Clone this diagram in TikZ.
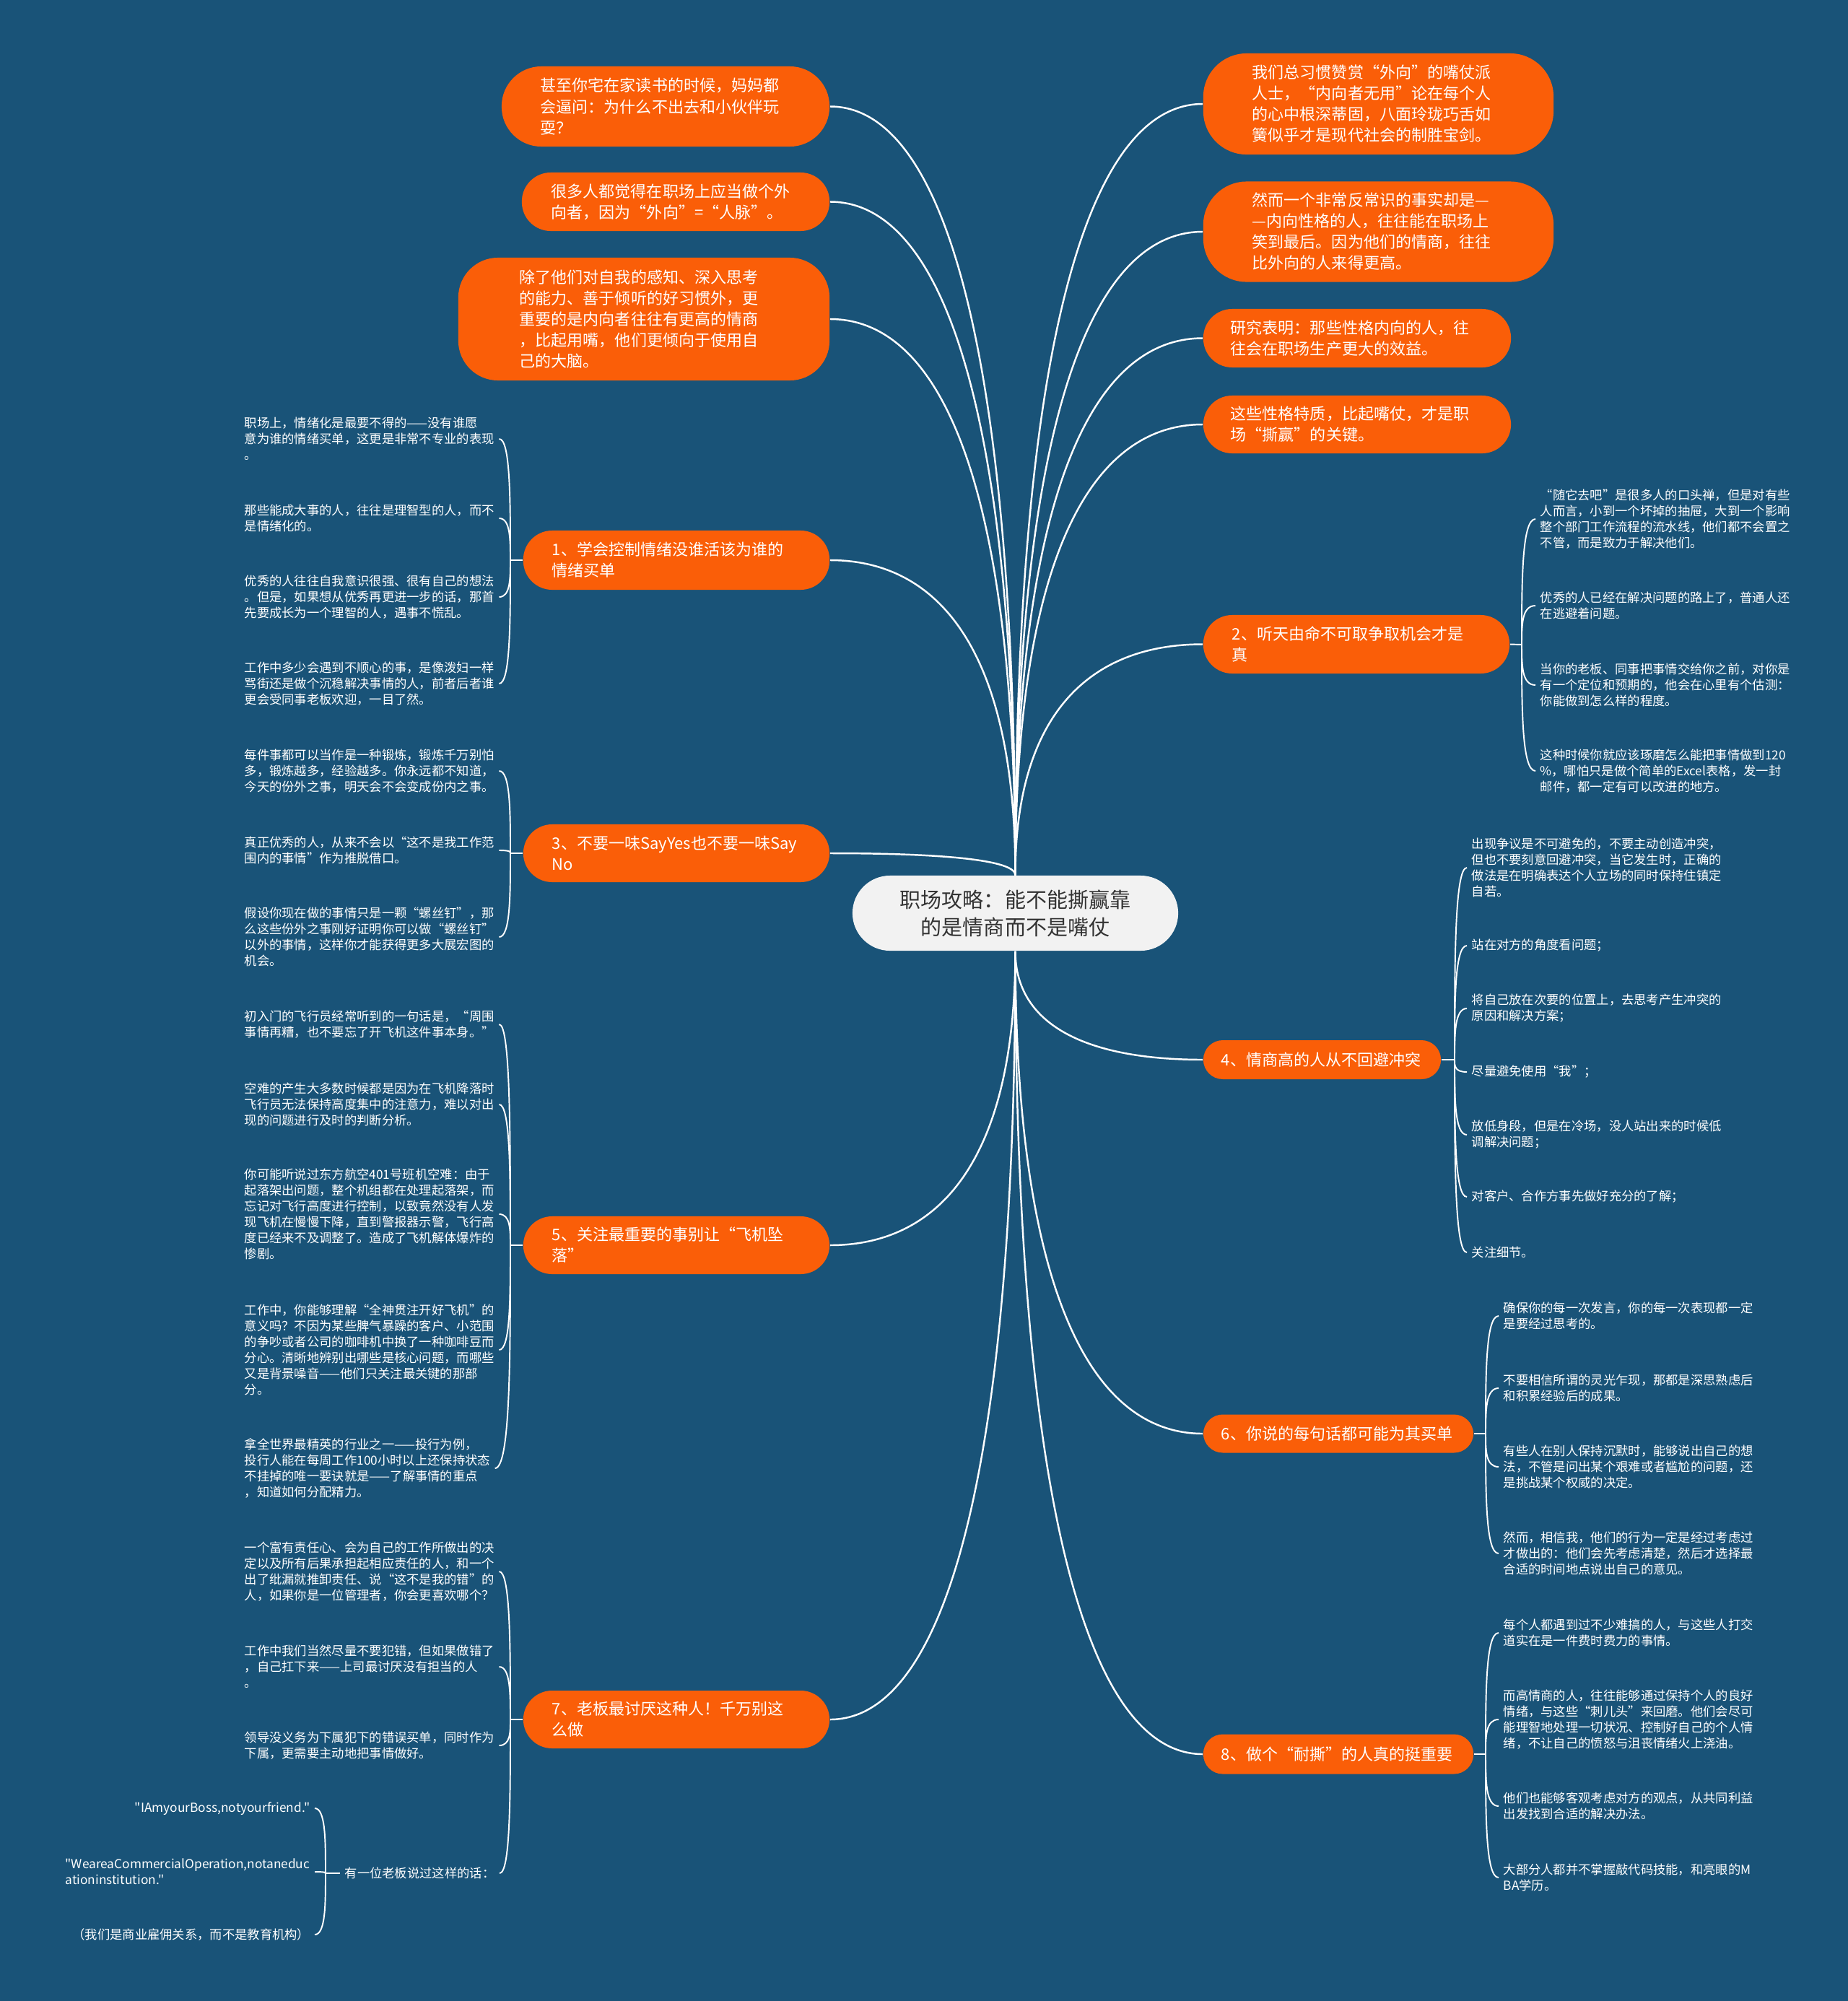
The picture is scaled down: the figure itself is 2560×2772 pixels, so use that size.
\documentclass[tikz,border=0pt]{standalone}
\usepackage{fontspec}
\setmainfont{Noto Sans CJK SC}[Ligatures=TeXOff]
\usetikzlibrary{calc}
\definecolor{bgc}{RGB}{25,83,120}
\definecolor{orc}{RGB}{250,94,8}
\definecolor{cfill}{RGB}{242,242,242}
\definecolor{ctext}{RGB}{51,51,51}
\newcommand\mlink[2]{\draw[mainlink] let \p1=(#1), \p2=(#2) in (\p1) .. controls (\x1,{\y2+0.3*((\y1)-(\y2))}) and ({\x2+0.6*((\x1)-(\x2))},\y2) .. (\p2);}
\newcommand\slink[2]{\draw[sublink] let \p1=(#1), \p2=(#2) in (\p1) .. controls (\x1,{0.5*((\y1)+(\y2))}) and (\x1,\y2) .. (\p2);}
\begin{document}
\begin{tikzpicture}[x=0.01cm,y=-0.01cm,
 obox/.style={fill=orc,text=white,rounded corners=0.4cm,font=\fontsize{6.26pt}{8.25pt}\selectfont,align=left,inner ysep=0pt},
 cbox/.style={fill=cfill,text=ctext,rounded corners=0.52cm,font=\fontsize{8.25pt}{10.8pt}\selectfont,align=center,inner sep=0pt},
 leaf/.style={text=white,font=\fontsize{4.92pt}{6.26pt}\selectfont,align=left,inner sep=0.06cm},
 mainlink/.style={white,line width=0.7pt},
 sublink/.style={white,line width=0.55pt}]
\fill[bgc] (0,0) rectangle (2560,2772);

% center
\node[cbox,minimum width=4.51cm,minimum height=1.04cm] (c) at (1406.5,1265) {职场攻略：能不能撕赢靠\\的是情商而不是嘴仗};

% top-left leaves
\node[obox,rounded corners=0.55cm,minimum height=1.11cm,inner xsep=0.54cm,text width=3.46cm] (L1) at (922,147.5) {甚至你宅在家读书的时候，妈妈都\\会逼问：为什么不出去和小伙伴玩\\耍？};
\node[obox,minimum height=0.81cm,inner xsep=0.41cm,text width=3.44cm] (L2) at (936,279.5) {很多人都觉得在职场上应当做个外\\向者，因为“外向”=“人脉”。};
\node[obox,rounded corners=0.55cm,minimum height=1.70cm,inner xsep=0.85cm,text width=3.44cm] (L3) at (892,442) {除了他们对自我的感知、深入思考\\的能力、善于倾听的好习惯外，更\\重要的是内向者往往有更高的情商\\，比起用嘴，他们更倾向于使用自\\己的大脑。};
% top-right leaves
\node[obox,rounded corners=0.6cm,minimum height=1.40cm,inner xsep=0.68cm,text width=3.49cm] (R1) at (1909.5,144) {我们总习惯赞赏“外向”的嘴仗派\\人士，“内向者无用”论在每个人\\的心中根深蒂固，八面玲珑巧舌如\\簧似乎才是现代社会的制胜宝剑。};
\node[obox,rounded corners=0.6cm,minimum height=1.39cm,inner xsep=0.68cm,text width=3.49cm] (R2) at (1909.5,321) {然而一个非常反常识的事实却是—\\—内向性格的人，往往能在职场上\\笑到最后。因为他们的情商，往往\\比外向的人来得更高。};
\node[obox,minimum height=0.81cm,inner xsep=0.38cm,text width=3.50cm] (R3) at (1880,468.5) {研究表明：那些性格内向的人，往\\往会在职场生产更大的效益。};
\node[obox,minimum height=0.80cm,inner xsep=0.38cm,text width=3.50cm] (R4) at (1880,588) {这些性格特质，比起嘴仗，才是职\\场“撕赢”的关键。};

% branches
\node[obox,minimum height=0.82cm,inner xsep=0.40cm,text width=3.44cm] (B1) at (937,776) {1、学会控制情绪没谁活该为谁的\\情绪买单};
\node[obox,minimum height=0.80cm,inner xsep=0.40cm,text width=3.44cm] (B3) at (937,1182) {3、不要一味SayYes也不要一味Say\\No};
\node[obox,minimum height=0.80cm,inner xsep=0.40cm,text width=3.44cm] (B5) at (937,1725) {5、关注最重要的事别让“飞机坠\\落”};
\node[obox,minimum height=0.80cm,inner xsep=0.40cm,text width=3.44cm] (B7) at (937,2382) {7、老板最讨厌这种人！千万别这\\么做};
\node[obox,minimum height=0.81cm,inner xsep=0.40cm,text width=3.44cm] (B2) at (1879,892.5) {2、听天由命不可取争取机会才是\\真};
\node[obox,rounded corners=0.27cm,minimum height=0.54cm,inner xsep=0.25cm,text width=2.79cm] (B4) at (1831.5,1468) {4、情商高的人从不回避冲突};
\node[obox,rounded corners=0.27cm,minimum height=0.53cm,inner xsep=0.25cm,text width=3.24cm] (B6) at (1854,1986) {6、你说的每句话都可能为其买单};
\node[obox,rounded corners=0.27cm,minimum height=0.55cm,inner xsep=0.25cm,text width=3.24cm] (B8) at (1854,2430) {8、做个“耐撕”的人真的挺重要};

% main links
\mlink{c.north}{L1.east}
\mlink{c.north}{L2.east}
\mlink{c.north}{L3.east}
\mlink{c.north}{R1.west}
\mlink{c.north}{R2.west}
\mlink{c.north}{R3.west}
\mlink{c.north}{R4.west}
\mlink{c.north}{B1.east}
\mlink{c.north}{B3.east}
\mlink{c.north}{B2.west}
\mlink{c.south}{B4.west}
\mlink{c.south}{B5.east}
\mlink{c.south}{B6.west}
\mlink{c.south}{B7.east}
\mlink{c.south}{B8.west}

% group 1
\node[leaf,anchor=west] (a1) at (332,608) {职场上，情绪化是最要不得的——没有谁愿\\意为谁的情绪买单，这更是非常不专业的表现\\。};
\node[leaf,anchor=west] (a2) at (332,718) {那些能成大事的人，往往是理智型的人，而不\\是情绪化的。};
\node[leaf,anchor=west] (a3) at (332,827) {优秀的人往往自我意识很强、很有自己的想法\\。但是，如果想从优秀再更进一步的话，那首\\先要成长为一个理智的人，遇事不慌乱。};
\node[leaf,anchor=west] (a4) at (332,947) {工作中多少会遇到不顺心的事，是像泼妇一样\\骂街还是做个沉稳解决事情的人，前者后者谁\\更会受同事老板欢迎，一目了然。};
\coordinate (j1) at (707,776);
\draw[sublink] (B1.west) -- (j1);
\slink{j1}{a1.east}\slink{j1}{a2.east}\slink{j1}{a3.east}\slink{j1}{a4.east}

% group 3
\node[leaf,anchor=west] (b1) at (332,1068) {每件事都可以当作是一种锻炼，锻炼千万别怕\\多，锻炼越多，经验越多。你永远都不知道，\\今天的份外之事，明天会不会变成份内之事。};
\node[leaf,anchor=west] (b2) at (332,1178) {真正优秀的人，从来不会以“这不是我工作范\\围内的事情”作为推脱借口。};
\node[leaf,anchor=west] (b3) at (332,1298) {假设你现在做的事情只是一颗“螺丝钉”，那\\么这些份外之事刚好证明你可以做“螺丝钉”\\以外的事情，这样你才能获得更多大展宏图的\\机会。};
\coordinate (j3) at (707,1182);
\draw[sublink] (B3.west) -- (j3);
\slink{j3}{b1.east}\slink{j3}{b2.east}\slink{j3}{b3.east}

% group 5
\node[leaf,anchor=west] (c1) at (332,1419) {初入门的飞行员经常听到的一句话是，“周围\\事情再糟，也不要忘了开飞机这件事本身。”};
\node[leaf,anchor=west] (c2) at (332,1530) {空难的产生大多数时候都是因为在飞机降落时\\飞行员无法保持高度集中的注意力，难以对出\\现的问题进行及时的判断分析。};
\node[leaf,anchor=west] (c3) at (332,1682) {你可能听说过东方航空401号班机空难：由于\\起落架出问题，整个机组都在处理起落架，而\\忘记对飞行高度进行控制，以致竟然没有人发\\现飞机在慢慢下降，直到警报器示警，飞行高\\度已经来不及调整了。造成了飞机解体爆炸的\\惨剧。};
\node[leaf,anchor=west] (c4) at (332,1870) {工作中，你能够理解“全神贯注开好飞机”的\\意义吗？不因为某些脾气暴躁的客户、小范围\\的争吵或者公司的咖啡机中换了一种咖啡豆而\\分心。清晰地辨别出哪些是核心问题，而哪些\\又是背景噪音——他们只关注最关键的那部\\分。};
\node[leaf,anchor=west] (c5) at (332,2034) {拿全世界最精英的行业之一——投行为例，\\投行人能在每周工作100小时以上还保持状态\\不挂掉的唯一要诀就是——了解事情的重点\\，知道如何分配精力。};
\coordinate (j5) at (707,1725);
\draw[sublink] (B5.west) -- (j5);
\slink{j5}{c1.east}\slink{j5}{c2.east}\slink{j5}{c3.east}\slink{j5}{c4.east}\slink{j5}{c5.east}

% group 7
\node[leaf,anchor=west] (d1) at (332,2177) {一个富有责任心、会为自己的工作所做出的决\\定以及所有后果承担起相应责任的人，和一个\\出了纰漏就推卸责任、说“这不是我的错”的\\人，如果你是一位管理者，你会更喜欢哪个？};
\node[leaf,anchor=west] (d2) at (332,2309) {工作中我们当然尽量不要犯错，但如果做错了\\，自己扛下来——上司最讨厌没有担当的人\\。};
\node[leaf,anchor=west] (d3) at (332,2418) {领导没义务为下属犯下的错误买单，同时作为\\下属，更需要主动地把事情做好。};
\node[leaf,anchor=west] (d4) at (471,2595) {有一位老板说过这样的话：};
\coordinate (j7) at (707,2382);
\draw[sublink] (B7.west) -- (j7);
\slink{j7}{d1.east}\slink{j7}{d2.east}\slink{j7}{d3.east}\slink{j7}{d4.east}
\node[leaf,anchor=east] (e1) at (436,2505) {"IAmyourBoss,notyourfriend."};
\node[leaf,anchor=east] (e2) at (436,2593) {"WeareaCommercialOperation,notaneduc\\ationinstitution."};
\node[leaf,anchor=east] (e3) at (436,2680) {（我们是商业雇佣关系，而不是教育机构）};
\coordinate (jd) at (451,2595);
\draw[sublink] (d4.west) -- (jd);
\slink{jd}{e1.east}\slink{jd}{e2.east}\slink{jd}{e3.east}

% group 2
\node[leaf,anchor=west] (f1) at (2127,719) {“随它去吧”是很多人的口头禅，但是对有些\\人而言，小到一个坏掉的抽屉，大到一个影响\\整个部门工作流程的流水线，他们都不会置之\\不管，而是致力于解决他们。};
\node[leaf,anchor=west] (f2) at (2127,839) {优秀的人已经在解决问题的路上了，普通人还\\在逃避着问题。};
\node[leaf,anchor=west] (f3) at (2127,949) {当你的老板、同事把事情交给你之前，对你是\\有一个定位和预期的，他会在心里有个估测：\\你能做到怎么样的程度。};
\node[leaf,anchor=west] (f4) at (2127,1068) {这种时候你就应该琢磨怎么能把事情做到120\\\%，哪怕只是做个简单的Excel表格，发一封\\邮件，都一定有可以改进的地方。};
\coordinate (j2) at (2108,893);
\draw[sublink] (B2.east) -- (j2);
\slink{j2}{f1.west}\slink{j2}{f2.west}\slink{j2}{f3.west}\slink{j2}{f4.west}

% group 4
\node[leaf,anchor=west] (g1) at (2032,1202) {出现争议是不可避免的，不要主动创造冲突，\\但也不要刻意回避冲突，当它发生时，正确的\\做法是在明确表达个人立场的同时保持住镇定\\自若。};
\node[leaf,anchor=west] (g2) at (2032,1310) {站在对方的角度看问题；};
\node[leaf,anchor=west] (g3) at (2032,1397) {将自己放在次要的位置上，去思考产生冲突的\\原因和解决方案；};
\node[leaf,anchor=west] (g4) at (2032,1485) {尽量避免使用“我”；};
\node[leaf,anchor=west] (g5) at (2032,1572) {放低身段，但是在冷场，没人站出来的时候低\\调解决问题；};
\node[leaf,anchor=west] (g6) at (2032,1658) {对客户、合作方事先做好充分的了解；};
\node[leaf,anchor=west] (g7) at (2032,1735) {关注细节。};
\coordinate (j4) at (2015,1468);
\draw[sublink] (B4.east) -- (j4);
\slink{j4}{g1.west}\slink{j4}{g2.west}\slink{j4}{g3.west}\slink{j4}{g4.west}\slink{j4}{g5.west}\slink{j4}{g6.west}\slink{j4}{g7.west}

% group 6
\node[leaf,anchor=west] (h1) at (2076,1823) {确保你的每一次发言，你的每一次表现都一定\\是要经过思考的。};
\node[leaf,anchor=west] (h2) at (2076,1923) {不要相信所谓的灵光乍现，那都是深思熟虑后\\和积累经验后的成果。};
\node[leaf,anchor=west] (h3) at (2076,2032) {有些人在别人保持沉默时，能够说出自己的想\\法，不管是问出某个艰难或者尴尬的问题，还\\是挑战某个权威的决定。};
\node[leaf,anchor=west] (h4) at (2076,2152) {然而，相信我，他们的行为一定是经过考虑过\\才做出的：他们会先考虑清楚，然后才选择最\\合适的时间地点说出自己的意见。};
\coordinate (j6) at (2058,1986);
\draw[sublink] (B6.east) -- (j6);
\slink{j6}{h1.west}\slink{j6}{h2.west}\slink{j6}{h3.west}\slink{j6}{h4.west}

% group 8
\node[leaf,anchor=west] (k1) at (2076,2262) {每个人都遇到过不少难搞的人，与这些人打交\\道实在是一件费时费力的事情。};
\node[leaf,anchor=west] (k2) at (2076,2382) {而高情商的人，往往能够通过保持个人的良好\\情绪，与这些“刺儿头”来回磨。他们会尽可\\能理智地处理一切状况、控制好自己的个人情\\绪，不让自己的愤怒与沮丧情绪火上浇油。};
\node[leaf,anchor=west] (k3) at (2076,2502) {他们也能够客观考虑对方的观点，从共同利益\\出发找到合适的解决办法。};
\node[leaf,anchor=west] (k4) at (2076,2601) {大部分人都并不掌握敲代码技能，和亮眼的M\\BA学历。};
\coordinate (j8) at (2058,2430);
\draw[sublink] (B8.east) -- (j8);
\slink{j8}{k1.west}\slink{j8}{k2.west}\slink{j8}{k3.west}\slink{j8}{k4.west}
\end{tikzpicture}
\end{document}
